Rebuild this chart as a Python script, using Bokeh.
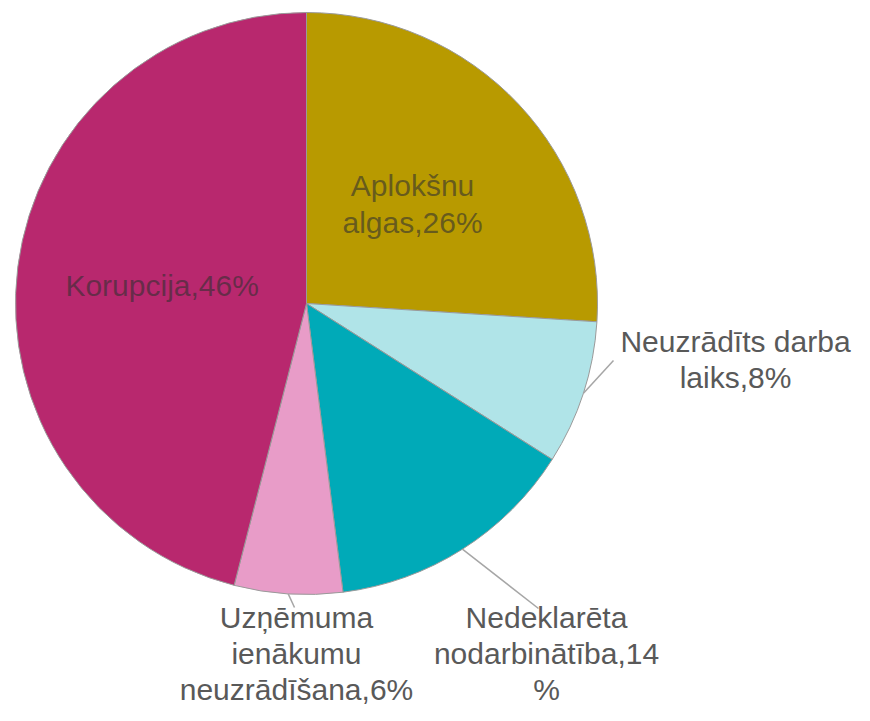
import math
from bokeh.plotting import figure
from bokeh.models import Range1d, ColumnDataSource
from bokeh.embed import file_html
from bokeh.resources import INLINE
from bokeh.core.properties import value

# ---- data ----
categories = ["Aplokšnu algas", "Neuzrādīts darba laiks", "Nedeklarēta nodarbinātība",
              "Uzņēmuma ienākumu neuzrādīšana", "Korupcija"]
values = [26, 8, 14, 6, 46]
label_texts = ["Aplokšnu\nalgas,26%", "Neuzrādīts darba\nlaiks,8%",
               "Nedeklarēta\nnodarbinātība,14\n%", "Uzņēmuma\nienākumu\nneuzrādīšana,6%",
               "Korupcija,46%"]
colors = ["#B89A00", "#B0E4E8", "#00AAB8", "#E89CC8", "#B8286E"]

# ---- layout (picture pixel coordinates) ----
W, H = 854, 705
PAGE_H = 721
CX, CY, R = 306, 303, 291
inside = [True, False, False, False, True]
# outside label anchors and leader-line elbow points (px)
label_pos = {1: (735, 359), 2: (546, 653), 3: (296, 653)}
leader_end = {1: (613, 360), 2: (538, 608), 3: (294, 607)}


def fy(py):
    return PAGE_H - py


p = figure(width=W, height=H, output_backend="svg", toolbar_location=None,
           x_range=Range1d(0, W), y_range=Range1d(PAGE_H - H, PAGE_H),
           min_border=0, outline_line_color=None)
p.axis.visible = False
p.grid.visible = False
p.background_fill_color = "white"
p.border_fill_color = "white"

total = sum(values)
starts, ends, mids = [], [], []
cum = 0
for v in values:
    a0 = math.pi / 2 - 2 * math.pi * cum / total
    cum += v
    a1 = math.pi / 2 - 2 * math.pi * cum / total
    starts.append(a0)
    ends.append(a1)
    mids.append((a0 + a1) / 2)

src = ColumnDataSource(dict(start=starts, end=ends, color=colors, cat=categories, val=values))
p.wedge(x=CX, y=fy(CY), radius=R, start_angle="start", end_angle="end",
        direction="clock", fill_color="color", line_color="#9a9a9a", line_width=1,
        source=src)

ix, iy, it = [], [], []
ox, oy, ot = [], [], []
lx, ly = [], []
for i, m in enumerate(mids):
    if inside[i]:
        ix.append(CX + 0.5 * R * math.cos(m))
        iy.append(fy(CY) + 0.5 * R * math.sin(m))
        it.append(label_texts[i])
    else:
        ex = CX + R * math.cos(m)
        ey = fy(CY) + R * math.sin(m)
        e2 = leader_end[i]
        lx.append([ex, e2[0]])
        ly.append([ey, fy(e2[1])])
        lp = label_pos[i]
        ox.append(lp[0])
        oy.append(fy(lp[1]))
        ot.append(label_texts[i])

p.multi_line(xs=lx, ys=ly, line_color="#a6a6a6", line_width=1.5)

p.text(x=ix, y=iy, text=it, text_align="center", text_baseline="middle",
       text_font=value("Liberation Sans"), text_font_size="30px",
       text_line_height=1.1, text_color="#303030", text_alpha=0.6)
p.text(x=ox, y=oy, text=ot, text_align="center", text_baseline="middle",
       text_font=value("Liberation Sans"), text_font_size="30px",
       text_line_height=1.08, text_color="#595959")

open("out.html", "w").write(file_html(p, INLINE))
